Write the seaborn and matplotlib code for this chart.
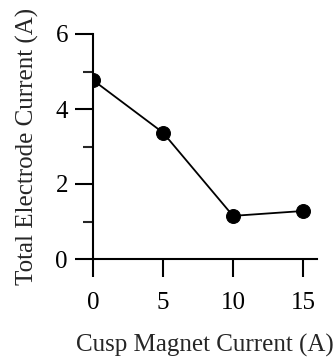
import matplotlib
matplotlib.use("Agg")
import matplotlib.pyplot as plt
import seaborn as sns
import pandas as pd
from matplotlib.ticker import MultipleLocator

magnet_current = [0, 5, 10, 15]
electrode_current = [4.77, 3.37, 1.15, 1.28]
x_ticks = [0, 5, 10, 15]
y_ticks = [0, 2, 4, 6]

sns.set_style("ticks")
plt.rcParams['font.family'] = ['Liberation Serif', 'DejaVu Serif']

df = pd.DataFrame({"x": magnet_current, "y": electrode_current})

fig = plt.figure(figsize=(3.34, 3.59), dpi=100)
ax = fig.add_axes([93/334, 1-259/359, (317-93)/334, (259-34)/359])
sns.lineplot(data=df, x="x", y="y", ax=ax, color="black", linewidth=1.3,
             marker="o", markersize=10, markeredgecolor="black",
             markerfacecolor="black")
ax.set_xlim(0, 16)
ax.set_ylim(0, 6)
ax.set_xticks(x_ticks)
ax.set_yticks(y_ticks)
ax.yaxis.set_minor_locator(MultipleLocator(1))
ax.spines['top'].set_visible(False)
ax.spines['right'].set_visible(False)
for s in ['left', 'bottom']:
    ax.spines[s].set_linewidth(1.5)
    ax.spines[s].set_color('black')
ax.tick_params(axis='both', which='major', direction='out', length=13, width=1.5,
               labelsize=18, colors='black')
ax.tick_params(axis='x', which='major', pad=11)
ax.tick_params(axis='y', which='major', pad=5)
ax.tick_params(axis='y', which='minor', direction='out', length=7, width=1.5)
ax.set_xlabel("Cusp Magnet Current (A)", fontsize=18, labelpad=14)
ax.set_ylabel("Total Electrode Current (A)", fontsize=18, labelpad=12)
fig.savefig("out.png", dpi=100)
